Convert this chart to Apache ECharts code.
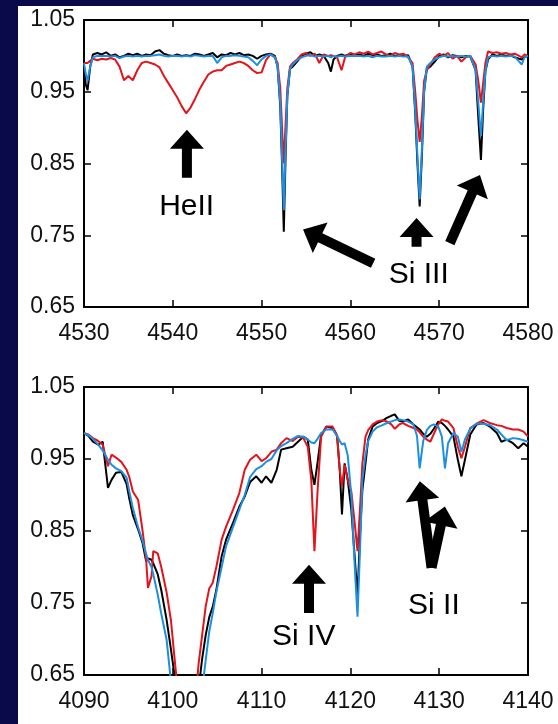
<!DOCTYPE html>
<html><head><meta charset="utf-8">
<script src="https://cdn.jsdelivr.net/npm/echarts@6/dist/echarts.min.js"></script>
<style>html,body{margin:0;padding:0;background:#0a0a4a;}#c{width:558px;height:724px;}</style>
</head><body><div id="c"></div>
<script>
// ---- Top panel (4530-4580 Å) ----
const topWl = [4530.0,4530.2,4530.4,4530.7,4531.0,4531.5,4532.0,4532.5,4533.0,4533.5,4534.0,4534.5,4535.0,4535.5,4536.0,4536.5,4537.0,4537.5,4538.0,4538.5,4539.0,4539.5,4540.0,4540.5,4541.0,4541.5,4542.0,4542.5,4543.0,4543.5,4544.0,4544.5,4545.0,4545.5,4546.0,4546.5,4547.0,4547.5,4548.0,4548.5,4549.0,4549.5,4550.0,4550.5,4551.0,4551.5,4551.8,4552.1,4552.3,4552.5,4552.7,4552.9,4553.2,4553.5,4554.0,4554.5,4555.0,4555.5,4556.0,4556.5,4557.0,4557.5,4557.8,4558.1,4558.5,4559.0,4559.4,4560.0,4560.5,4561.0,4561.5,4562.0,4562.5,4563.0,4563.5,4564.0,4564.5,4565.0,4565.5,4566.0,4566.5,4567.0,4567.3,4567.55,4567.8,4568.05,4568.3,4568.6,4569.0,4569.5,4570.0,4570.5,4571.0,4571.5,4572.0,4572.5,4573.0,4573.5,4574.1,4574.4,4574.7,4574.95,4575.2,4575.5,4576.0,4576.5,4577.0,4577.5,4578.0,4578.5,4579.0,4579.3,4579.6,4580.0];
const topBlack = [0.985,0.960,0.952,0.985,1.002,1.004,1.002,1.005,1.000,1.002,0.998,1.000,1.003,1.001,1.003,1.000,1.002,1.001,1.006,1.008,1.003,1.001,1.000,1.002,1.000,1.001,1.000,1.003,1.002,1.000,1.002,1.004,0.998,1.002,1.001,1.004,1.002,1.004,1.001,1.002,1.000,0.996,1.000,1.002,1.003,1.000,0.985,0.930,0.850,0.755,0.860,0.945,0.982,0.985,0.992,1.000,1.003,1.005,1.000,1.002,1.000,0.990,0.978,0.995,1.000,1.002,1.000,1.003,1.001,1.002,1.000,1.003,1.001,1.002,1.000,1.001,1.003,1.000,1.001,1.000,1.001,0.985,0.920,0.850,0.790,0.860,0.950,0.982,0.985,0.992,1.000,1.002,0.998,1.001,1.000,0.998,1.000,0.999,0.980,0.915,0.855,0.925,0.978,0.995,1.002,1.000,1.002,1.000,1.001,0.998,0.996,0.995,0.998,1.000];
const topRed = [0.990,0.992,0.990,0.993,0.996,0.994,0.996,0.995,0.997,0.995,0.985,0.966,0.972,0.966,0.980,0.990,0.992,0.990,0.988,0.984,0.972,0.962,0.952,0.942,0.930,0.920,0.928,0.940,0.953,0.964,0.974,0.978,0.980,0.980,0.986,0.988,0.990,0.992,0.990,0.986,0.980,0.976,0.977,0.994,1.002,0.998,0.990,0.955,0.900,0.850,0.905,0.955,0.985,0.990,0.995,1.002,1.004,1.000,1.003,0.990,1.002,1.000,1.001,1.000,0.998,0.980,0.998,1.004,1.002,1.005,1.003,1.006,1.002,1.004,1.006,1.002,1.000,1.004,1.002,1.003,0.998,0.990,0.950,0.910,0.880,0.915,0.965,0.980,0.988,0.998,1.003,1.000,1.004,0.996,1.000,0.992,0.998,1.000,0.988,0.965,0.935,0.962,0.990,1.006,1.004,1.005,1.003,1.004,1.002,1.003,1.000,0.998,1.002,1.000];
const topBlue = [0.990,0.975,0.965,0.985,0.998,1.000,1.000,1.000,0.999,1.000,0.997,0.999,1.000,0.999,1.000,0.999,1.000,1.000,1.001,1.002,1.000,0.999,1.000,1.000,0.999,1.000,0.999,1.001,1.000,0.999,1.000,1.000,0.990,0.998,1.000,1.000,1.001,1.000,0.999,0.998,0.993,0.987,0.995,1.000,1.002,0.998,0.985,0.935,0.860,0.785,0.870,0.945,0.982,0.988,0.994,0.998,1.000,1.001,0.999,1.000,0.999,1.000,0.998,1.000,0.999,1.000,0.999,1.000,1.000,1.000,0.999,1.000,0.998,1.000,0.999,0.999,1.000,0.999,1.000,0.999,0.999,0.985,0.925,0.860,0.800,0.870,0.950,0.985,0.990,0.995,0.998,1.000,0.999,1.000,0.999,1.000,0.999,1.000,0.980,0.935,0.888,0.935,0.978,0.998,1.000,0.999,1.000,0.999,1.000,0.999,0.992,0.988,0.998,1.000];

// ---- Bottom panel (4090-4140 Å) ----
const botWl = [4090.0,4090.5,4091.0,4091.6,4092.1,4092.7,4093.1,4093.6,4094.2,4094.8,4095.1,4095.5,4096.1,4096.6,4097.0,4097.2,4097.6,4097.8,4098.3,4098.7,4099.3,4099.8,4100.3,4101.0,4101.7,4102.4,4102.9,4103.3,4103.7,4104.1,4104.5,4104.9,4105.5,4106.0,4106.8,4107.5,4108.1,4108.7,4109.4,4110.0,4110.5,4111.1,4111.7,4112.2,4112.8,4113.5,4114.1,4114.7,4115.2,4115.6,4115.95,4116.3,4116.7,4117.3,4118.0,4118.5,4118.8,4119.05,4119.35,4119.7,4120.1,4120.45,4120.8,4121.1,4121.35,4121.7,4122.0,4122.5,4123.0,4123.6,4124.1,4124.6,4125.0,4125.5,4125.9,4126.5,4127.1,4127.5,4127.8,4128.2,4128.6,4129.0,4129.4,4129.9,4130.3,4130.65,4131.0,4131.6,4132.1,4132.5,4132.9,4133.5,4134.2,4135.0,4135.7,4136.5,4137.0,4137.6,4138.3,4138.9,4139.5,4140.0];
const botBlack = [0.986,0.982,0.974,0.970,0.974,0.910,0.921,0.931,0.932,0.915,0.895,0.872,0.852,0.833,0.808,0.812,0.810,0.805,0.790,0.768,0.727,0.685,0.640,0.560,0.520,0.560,0.630,0.672,0.705,0.730,0.745,0.768,0.815,0.838,0.862,0.884,0.898,0.918,0.926,0.917,0.926,0.917,0.935,0.963,0.965,0.967,0.974,0.981,0.977,0.935,0.914,0.945,0.983,0.995,0.993,0.982,0.935,0.873,0.944,0.921,0.880,0.820,0.759,0.850,0.907,0.944,0.977,0.995,1.000,1.003,1.007,1.010,1.012,1.003,1.002,1.005,0.998,0.994,0.991,0.985,0.981,0.985,0.992,1.002,1.000,0.996,0.991,0.981,0.949,0.926,0.949,0.984,0.998,1.000,0.995,0.986,0.974,0.977,0.972,0.965,0.972,0.967];
const botRed = [0.986,0.984,0.979,0.975,0.970,0.940,0.956,0.952,0.946,0.935,0.925,0.905,0.893,0.850,0.810,0.771,0.787,0.822,0.819,0.800,0.765,0.725,0.660,0.580,0.540,0.590,0.665,0.705,0.745,0.770,0.778,0.800,0.838,0.856,0.880,0.903,0.935,0.949,0.956,0.947,0.951,0.960,0.963,0.972,0.979,0.975,0.981,0.979,0.967,0.920,0.822,0.905,0.981,0.995,0.995,0.983,0.935,0.912,0.942,0.921,0.905,0.865,0.822,0.885,0.944,0.981,0.990,0.998,1.002,1.004,1.002,0.998,0.992,0.998,1.000,0.996,0.993,0.991,0.987,0.981,0.977,0.974,0.985,0.998,1.005,1.003,1.002,0.993,0.967,0.951,0.967,0.993,0.999,1.004,1.000,0.997,0.996,0.993,0.991,0.991,0.988,0.981];
const botBlue = [0.986,0.983,0.978,0.970,0.962,0.949,0.942,0.937,0.933,0.924,0.905,0.882,0.855,0.836,0.818,0.810,0.800,0.790,0.762,0.735,0.699,0.640,0.590,0.530,0.500,0.530,0.590,0.630,0.670,0.710,0.736,0.765,0.800,0.829,0.856,0.880,0.900,0.925,0.936,0.940,0.946,0.950,0.962,0.968,0.972,0.978,0.982,0.981,0.977,0.973,0.972,0.978,0.986,0.991,0.991,0.982,0.975,0.970,0.972,0.955,0.900,0.810,0.731,0.830,0.921,0.955,0.975,0.988,0.994,0.997,1.000,1.002,1.004,1.005,1.004,1.002,0.998,0.982,0.937,0.975,0.990,0.996,0.998,0.995,0.981,0.937,0.972,0.986,0.981,0.960,0.977,0.992,0.999,0.999,0.997,0.991,0.984,0.976,0.979,0.978,0.976,0.974];

// ---- Tick labels ----
const topXTicks = [4530,4540,4550,4560,4570,4580];
const botXTicks = [4090,4100,4110,4120,4130,4140];
const yTicks = [0.65,0.75,0.85,0.95,1.05];

// ---- Annotations (in data coordinates) ----
const topArrows = [
  {from:[4541.59,0.830], to:[4541.59,0.897]},
  {from:[4562.56,0.711], to:[4554.67,0.758]},
  {from:[4567.45,0.734], to:[4567.45,0.774]},
  {from:[4571.20,0.739], to:[4574.59,0.834]}
];
const topLabels = [
  {text:'HeII', at:[4541.56,0.790]},
  {text:'Si III', at:[4567.70,0.695]}
];
const botArrows = [
  {from:[4115.34,0.736], to:[4115.34,0.803]},
  {from:[4129.14,0.799], to:[4127.82,0.919]},
  {from:[4129.14,0.799], to:[4130.64,0.884]}
];
const botLabels = [
  {text:'Si IV', at:[4114.75,0.703]},
  {text:'Si II', at:[4129.40,0.746]}
];

const FONT = '"Liberation Sans", Arial, Helvetica, sans-serif';
const colors = {black:'#000000', red:'#e3141b', blue:'#1c8fe3'};

function xAx(grid, ticks, pos, showLabel){
  return {
    gridIndex:grid, type:'value', min:ticks[0], max:ticks[ticks.length-1], position:pos,
    axisLine:{show:true, onZero:false, lineStyle:{color:'#000', width:2}},
    axisTick:{show:true, inside:true, length:7, customValues:ticks, lineStyle:{color:'#000', width:1.5}},
    axisLabel:{show:showLabel, customValues:ticks, fontSize:23, color:'#111', fontFamily:FONT, margin:15,
      formatter:v=>String(Math.round(v))},
    splitLine:{show:false}
  };
}
function yAx(grid, pos, showLabel){
  return {
    gridIndex:grid, type:'value', min:0.65, max:1.05, position:pos,
    axisLine:{show:true, onZero:false, lineStyle:{color:'#000', width:2}},
    axisTick:{show:true, inside:true, length:7, customValues:yTicks, lineStyle:{color:'#000', width:1.5}},
    axisLabel:{show:showLabel, customValues:yTicks, fontSize:23, color:'#111', fontFamily:FONT, margin:9,
      formatter:v=>v.toFixed(2)},
    splitLine:{show:false}
  };
}
function ser(wl, fl, color, xi, yi){
  return {type:'line', xAxisIndex:xi, yAxisIndex:yi, data:wl.map((w,i)=>[w, fl[i]]),
    showSymbol:false, symbol:'none', smooth:false, clip:true, animation:false,
    lineStyle:{color:color, width:2}, z:3};
}

const chart = echarts.init(document.getElementById('c'), null, {renderer:'canvas'});
chart.setOption({
  backgroundColor:'#0a0a4a',
  animation:false,
  grid:[
    {left:84, top:20, width:444, height:287},
    {left:84, top:387, width:444, height:288}
  ],
  xAxis:[xAx(0, topXTicks,'bottom',true), xAx(0, topXTicks,'top',false),
         xAx(1, botXTicks,'bottom',true), xAx(1, botXTicks,'top',false)],
  yAxis:[yAx(0,'left',true), yAx(0,'right',false), yAx(1,'left',true), yAx(1,'right',false)],
  series:[
    ser(topWl, topBlack, colors.black, 0, 0),
    ser(topWl, topRed, colors.red, 0, 0),
    ser(topWl, topBlue, colors.blue, 0, 0),
    ser(botWl, botBlack, colors.black, 2, 2),
    ser(botWl, botRed, colors.red, 2, 2),
    ser(botWl, botBlue, colors.blue, 2, 2)
  ]
});

function px(p, xi, yi){
  return [chart.convertToPixel({xAxisIndex:xi}, p[0]), chart.convertToPixel({yAxisIndex:yi}, p[1])];
}
function arrowPoly(a, b, sw, hl, hw){
  const dx=b[0]-a[0], dy=b[1]-a[1], L=Math.hypot(dx,dy);
  const ux=dx/L, uy=dy/L, nx=-uy, ny=ux;
  const bx=b[0]-ux*hl, by=b[1]-uy*hl;
  return [
    [a[0]+nx*sw/2, a[1]+ny*sw/2],[bx+nx*sw/2, by+ny*sw/2],[bx+nx*hw/2, by+ny*hw/2],
    [b[0], b[1]],
    [bx-nx*hw/2, by-ny*hw/2],[bx-nx*sw/2, by-ny*sw/2],[a[0]-nx*sw/2, a[1]-ny*sw/2]
  ];
}
const g = [{type:'rect', shape:{x:18, y:6, width:540, height:718}, style:{fill:'#ffffff'}, z:-10, silent:true}];
function addArrows(list, xi, yi){
  list.forEach(a=>{
    g.push({type:'polygon', shape:{points:arrowPoly(px(a.from,xi,yi), px(a.to,xi,yi), 10, 19, 34)},
      style:{fill:'#000'}, z:50, silent:true});
  });
}
function addLabels(list, xi, yi){
  list.forEach(l=>{
    const p = px(l.at, xi, yi);
    g.push({type:'text', x:p[0], y:p[1], z:50, silent:true,
      style:{text:l.text, fill:'#000', font:'30px ' + FONT, textAlign:'center', textVerticalAlign:'middle'}});
  });
}
addArrows(topArrows, 0, 0); addLabels(topLabels, 0, 0);
addArrows(botArrows, 2, 2); addLabels(botLabels, 2, 2);
chart.setOption({graphic:g});
</script>
</body></html>
